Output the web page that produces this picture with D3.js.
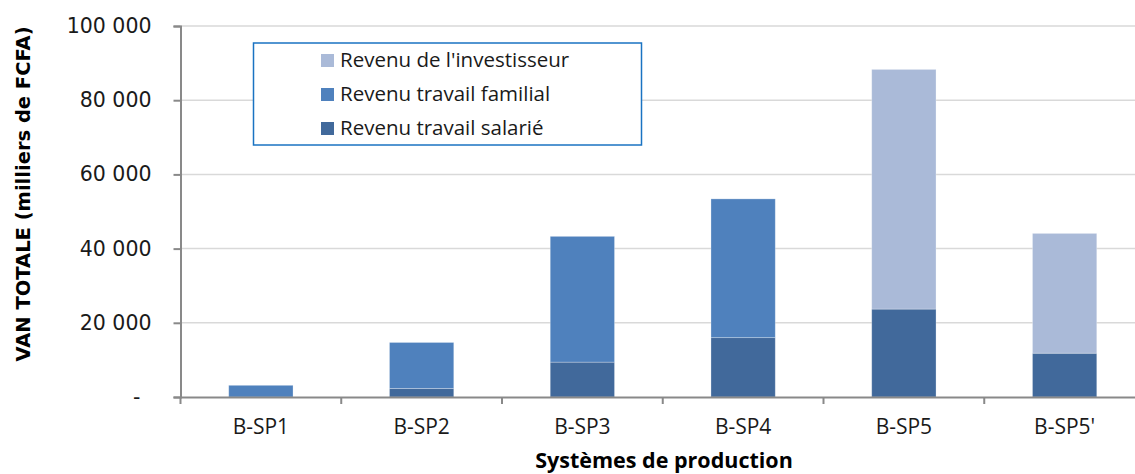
<!DOCTYPE html>
<html>
<head>
<meta charset="utf-8">
<script src="https://cdn.jsdelivr.net/npm/d3@7"></script>
<style>
  body { margin: 0; background: #fff; }
  svg { display: block; }
</style>
</head>
<body>
<script>
// Data (milliers de FCFA)
const categories = ["B-SP1", "B-SP2", "B-SP3", "B-SP4", "B-SP5", "B-SP5'"];
const salarie = [0, 2300, 9400, 16000, 23700, 11800];
const familial = [3150, 12400, 33900, 37400, 0, 0];
const investisseur = [0, 0, 0, 0, 64600, 32300];
const seriesNames = ["Revenu travail salarié", "Revenu travail familial", "Revenu de l'investisseur"];
const yTicks = [0, 20000, 40000, 60000, 80000, 100000];

const width = 1135, height = 474;
const margin = {top: 26, left: 180.5, bottom: 77, right: -10};
const colors = ["#41699b", "#4f81bd", "#aabad8"];

const svg = d3.select("body").append("svg")
    .attr("width", width)
    .attr("height", height);

const rows = categories.map((c, i) => ({
    cat: c, s0: salarie[i], s1: familial[i], s2: investisseur[i]
}));
const stack = d3.stack().keys(["s0", "s1", "s2"]);
const layers = stack(rows);

const x = d3.scaleBand()
    .domain(categories)
    .range([margin.left, width - margin.right])
    .paddingInner(0.6)
    .paddingOuter(0.3);
const y = d3.scaleLinear()
    .domain([0, 100000])
    .range([height - margin.bottom, margin.top]);

// gridlines
svg.append("g")
    .selectAll("line")
    .data(yTicks.filter(d => d > 0))
    .enter().append("line")
    .attr("x1", margin.left)
    .attr("x2", width)
    .attr("y1", d => y(d))
    .attr("y2", d => y(d))
    .attr("stroke", "#d9d9d9")
    .attr("stroke-width", 1.5);

// bars
svg.append("g")
    .selectAll("g")
    .data(layers)
    .enter().append("g")
    .attr("fill", (d, i) => colors[i])
    .selectAll("rect")
    .data(d => d.filter(p => p[1] - p[0] > 0))
    .enter().append("rect")
    .attr("x", d => x(d.data.cat))
    .attr("width", x.bandwidth())
    .attr("y", d => y(d[1]))
    .attr("height", d => y(d[0]) - y(d[1]))
    .attr("stroke", "#ffffff")
    .attr("stroke-opacity", 0.35)
    .attr("stroke-width", 0.8);

// y axis
const yAxis = svg.append("g")
    .attr("transform", "translate(" + margin.left + ",0)")
    .call(d3.axisLeft(y).tickValues(yTicks).tickSize(7).tickPadding(22)
        .tickFormat(d => d === 0 ? "-" : d3.format(",")(d).replace(/,/g, " ")));
yAxis.select(".domain").attr("stroke", "#898989").attr("stroke-width", 2);
yAxis.selectAll(".tick line").attr("stroke", "#898989").attr("stroke-width", 2);
yAxis.selectAll(".tick text")
    .attr("font-family", "DejaVu Sans")
    .attr("font-size", 20.5)
    .attr("fill", "#1a1a1a");
yAxis.selectAll(".tick text").filter(d => d === 0).attr("dx", -11);

// x axis
const xAxis = svg.append("g")
    .attr("transform", "translate(0," + y(0) + ")")
    .call(d3.axisBottom(x).tickSize(0).tickPadding(22));
xAxis.select(".domain").attr("stroke", "#898989").attr("stroke-width", 2);
xAxis.selectAll(".tick text")
    .attr("font-family", "Open Sans")
    .attr("font-size", 21)
    .attr("fill", "#1a1a1a");
// category separators
const step = x.step();
xAxis.append("g")
    .selectAll("line")
    .data(d3.range(categories.length + 1))
    .enter().append("line")
    .attr("x1", i => margin.left + i * step)
    .attr("x2", i => margin.left + i * step)
    .attr("y1", 0)
    .attr("y2", 7)
    .attr("stroke", "#898989")
    .attr("stroke-width", 2);

// axis titles
svg.append("text")
    .attr("transform", "translate(30,194) rotate(-90)")
    .attr("text-anchor", "middle")
    .attr("font-family", "DejaVu Sans")
    .attr("font-weight", "bold")
    .attr("font-size", 19.5)
    .attr("fill", "#000")
    .text("VAN TOTALE (milliers de FCFA)");

svg.append("text")
    .attr("x", 664)
    .attr("y", 468)
    .attr("text-anchor", "middle")
    .attr("font-family", "Open Sans")
    .attr("font-weight", "bold")
    .attr("font-size", 21.5)
    .attr("fill", "#000")
    .text("Systèmes de production");

// legend
const legend = svg.append("g");
legend.append("rect")
    .attr("x", 253.5)
    .attr("y", 43)
    .attr("width", 388)
    .attr("height", 102)
    .attr("fill", "#fff")
    .attr("stroke", "#1a73c2")
    .attr("stroke-width", 1.5);
const legendOrder = [2, 1, 0];
const items = legend.selectAll("g.item")
    .data(legendOrder)
    .enter().append("g")
    .attr("class", "item")
    .attr("transform", (d, i) => "translate(321," + (60 + i * 34) + ")");
items.append("rect")
    .attr("x", 0)
    .attr("y", -6)
    .attr("width", 13)
    .attr("height", 13)
    .attr("fill", d => colors[d]);
items.append("text")
    .attr("x", 19)
    .attr("dy", "0.35em")
    .attr("font-family", "Open Sans")
    .attr("font-size", 20.5)
    .attr("fill", "#1a1a1a")
    .text(d => seriesNames[d]);
</script>
</body>
</html>
